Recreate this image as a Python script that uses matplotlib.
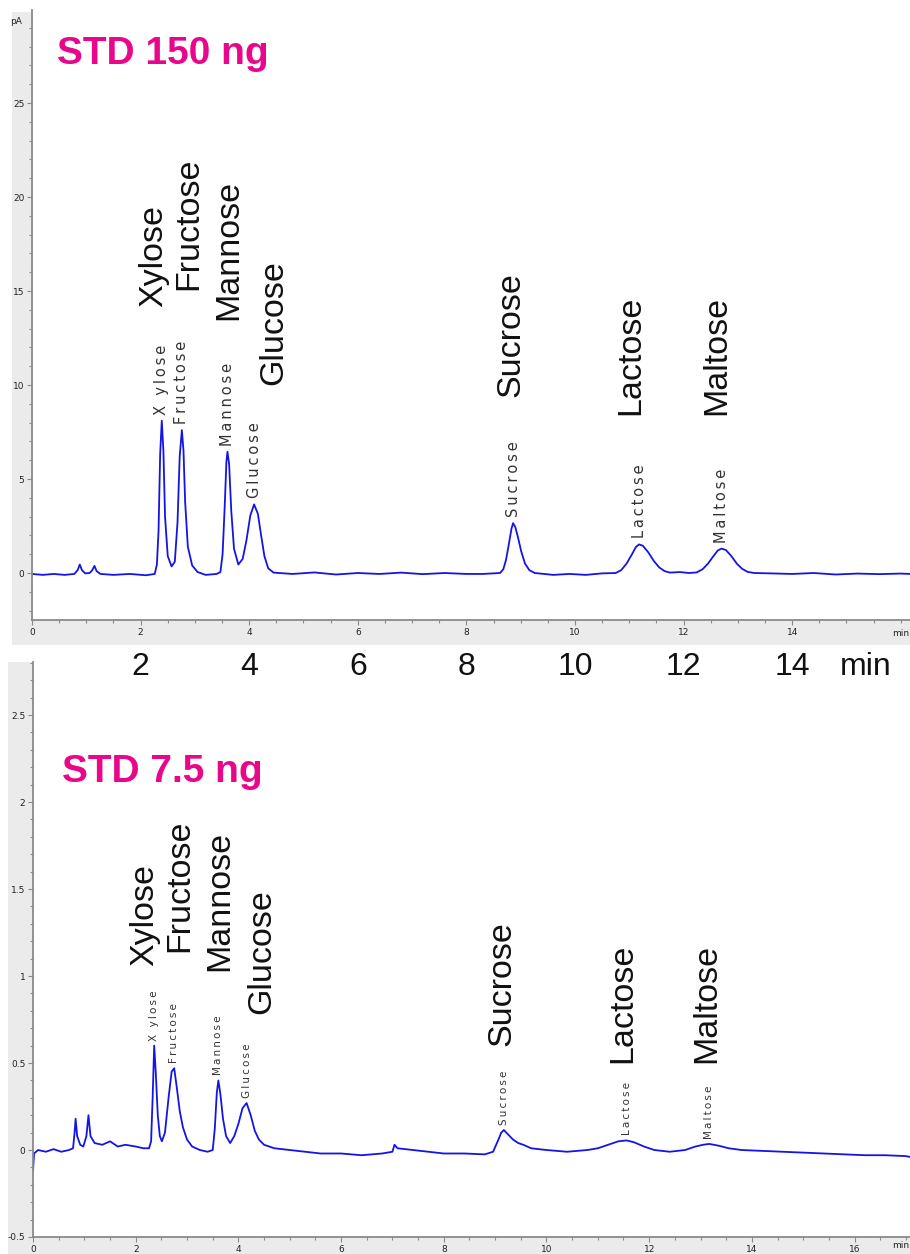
import matplotlib
matplotlib.use('Agg')
import matplotlib.pyplot as plt
from matplotlib.patches import Rectangle
from matplotlib.ticker import MultipleLocator
from matplotlib.transforms import blended_transform_factory, offset_copy

# ---------------- data ----------------
sugars = ['Xylose', 'Fructose', 'Mannose', 'Glucose', 'Sucrose', 'Lactose', 'Maltose']
small_names = ['X ylose', 'Fructose', 'Mannose', 'Glucose', 'Sucrose', 'Lactose', 'Maltose']

top_title = 'STD 150 ng'
bot_title = 'STD 7.5 ng'

top_rt = [2.39, 2.76, 3.60, 4.09, 8.86, 11.18, 12.70]
top_height = [8.1, 7.6, 6.45, 3.65, 2.65, 1.52, 1.30]
bot_rt = [2.36, 2.75, 3.61, 4.16, 9.17, 11.56, 13.17]
bot_height = [0.60, 0.47, 0.40, 0.27, 0.115, 0.055, 0.035]

top_time = [0.00, 0.20, 0.40, 0.60, 0.78, 0.84, 0.88, 0.92, 0.98, 1.06, 1.11, 1.15, 1.19, 1.26,
            1.50, 1.80, 2.10, 2.26, 2.30, 2.33, 2.36, 2.39, 2.42, 2.45, 2.50, 2.57, 2.63, 2.68,
            2.72, 2.76, 2.79, 2.82, 2.87, 2.95, 3.05, 3.20, 3.40, 3.47, 3.51, 3.55, 3.58, 3.60,
            3.63, 3.67, 3.72, 3.80, 3.88, 3.95, 4.02, 4.09, 4.16, 4.22, 4.28, 4.35, 4.45, 4.80,
            5.20, 5.60, 6.00, 6.40, 6.80, 7.20, 7.60, 8.00, 8.30, 8.62, 8.68, 8.73, 8.78, 8.83,
            8.86, 8.90, 8.95, 9.01, 9.08, 9.16, 9.26, 9.60, 9.90, 10.20, 10.50, 10.75, 10.85,
            10.95, 11.05, 11.12, 11.18, 11.25, 11.35, 11.45, 11.55, 11.65, 11.75, 11.93, 12.10,
            12.24, 12.35, 12.45, 12.55, 12.63, 12.70, 12.78, 12.88, 12.98, 13.08, 13.18, 13.30,
            13.60, 14.00, 14.40, 14.80, 15.20, 15.60, 16.00, 16.17]
top_signal = [-0.05, -0.10, -0.05, -0.10, -0.05, 0.15, 0.45, 0.15, -0.02, 0.00, 0.15, 0.38, 0.10, -0.05,
              -0.10, -0.05, -0.12, -0.05, 0.45, 2.20, 6.30, 8.10, 6.50, 3.00, 0.90, 0.35, 0.60, 2.70,
              6.20, 7.60, 6.50, 3.80, 1.40, 0.40, 0.05, -0.10, -0.05, 0.05, 1.00, 3.60, 5.90, 6.45,
              5.80, 3.30, 1.30, 0.45, 0.75, 1.75, 3.05, 3.65, 3.15, 2.00, 0.90, 0.25, 0.02, -0.05,
              0.03, -0.08, 0.00, -0.05, 0.02, -0.06, 0.00, -0.05, -0.05, 0.00, 0.20, 0.70, 1.50, 2.35,
              2.65, 2.45, 1.90, 1.15, 0.50, 0.15, 0.00, -0.10, -0.05, -0.10, -0.02, 0.00, 0.15,
              0.50, 1.00, 1.38, 1.52, 1.45, 1.10, 0.65, 0.30, 0.10, 0.02, 0.05, 0.00,
              0.03, 0.20, 0.50, 0.90, 1.20, 1.30, 1.22, 0.90, 0.50, 0.22, 0.06, 0.00,
              -0.02, -0.05, 0.00, -0.08, -0.03, -0.06, -0.03, -0.05]

bot_time = [0.00, 0.02, 0.10, 0.25, 0.40, 0.55, 0.70, 0.78, 0.81, 0.83, 0.86, 0.92, 0.98, 1.04,
            1.08, 1.12, 1.20, 1.35, 1.50, 1.65, 1.80, 2.00, 2.15, 2.26, 2.30, 2.33, 2.36, 2.39,
            2.43, 2.47, 2.51, 2.57, 2.64, 2.70, 2.75, 2.80, 2.86, 2.92, 3.00, 3.10, 3.25, 3.40,
            3.50, 3.54, 3.58, 3.61, 3.65, 3.70, 3.76, 3.84, 3.92, 4.00, 4.08, 4.16, 4.24, 4.32,
            4.40, 4.50, 4.70, 5.00, 5.30, 5.60, 6.00, 6.40, 6.80, 7.00, 7.04, 7.10, 7.40, 7.70,
            8.00, 8.40, 8.80, 8.96, 9.05, 9.12, 9.17, 9.25, 9.35, 9.45, 9.55, 9.70, 10.00, 10.40,
            10.80, 11.00, 11.20, 11.40, 11.56, 11.70, 11.90, 12.10, 12.40, 12.70, 12.90, 13.05,
            13.17, 13.35, 13.55, 13.80, 14.20, 14.60, 15.00, 15.40, 15.80, 16.20, 16.60, 17.00, 17.08]
bot_signal = [-0.12, -0.02, 0.00, -0.01, 0.005, -0.01, 0.00, 0.01, 0.10, 0.18, 0.08, 0.03, 0.02, 0.08,
              0.20, 0.08, 0.04, 0.03, 0.05, 0.02, 0.03, 0.02, 0.01, 0.01, 0.05, 0.30, 0.60, 0.45,
              0.20, 0.08, 0.05, 0.10, 0.30, 0.45, 0.47, 0.36, 0.22, 0.13, 0.06, 0.02, 0.00, -0.01,
              0.00, 0.12, 0.33, 0.40, 0.32, 0.18, 0.08, 0.04, 0.08, 0.15, 0.24, 0.27, 0.20, 0.11,
              0.06, 0.03, 0.01, 0.00, -0.01, -0.02, -0.02, -0.03, -0.02, -0.01, 0.03, 0.01, 0.00, -0.01,
              -0.02, -0.02, -0.025, -0.01, 0.05, 0.10, 0.115, 0.09, 0.06, 0.04, 0.03, 0.01, 0.00, -0.01,
              0.00, 0.01, 0.03, 0.05, 0.055, 0.045, 0.02, 0.00, -0.01, 0.00, 0.02, 0.03,
              0.035, 0.025, 0.01, 0.00, -0.005, -0.01, -0.015, -0.02, -0.025, -0.03, -0.03, -0.035, -0.04]

top_yticks = [0, 5, 10, 15, 20, 25]
top_xticks = [0, 2, 4, 6, 8, 10, 12, 14]
bot_yticks = [-0.5, 0, 0.5, 1, 1.5, 2, 2.5]
bot_ytick_labels = ['-0.5', '0', '0.5', '1', '1.5', '2', '2.5']
bot_xticks = [0, 2, 4, 6, 8, 10, 12, 14, 16]
big_xtick_values = [2, 4, 6, 8, 10, 12, 14]
x_unit = 'min'
y_unit = 'pA'

# ---------------- layout (positions / styles) ----------------
W, H = 910, 1254
top_big_x = [2.25, 2.89, 3.63, 4.46, 8.82, 11.03, 12.62]
top_big_y = [14.15, 15.05, 13.46, 10.0, 9.36, 8.4, 8.4]
bot_big_x = [2.18, 2.86, 3.64, 4.46, 9.13, 11.49, 13.13]
bot_big_y = [1.06, 1.14, 1.03, 0.78, 0.60, 0.50, 0.50]

TRACE = '#1414e6'
PINK = '#e8078b'
GRAY_BG = '#ebebeb'
AX_GRAY = '#8a8a8a'


def fx(x):
    return x / W


def fy(y):
    return 1 - y / H


def spaced(s):
    return '\u2009'.join(list(s))


fig = plt.figure(figsize=(W / 100, H / 100), dpi=100)
fig.patch.set_facecolor('white')

# gray margin areas (instrument-style)
for (x0, y0, x1, y1) in [(12, 12, 32, 645), (12, 620, 910, 645), (8, 662, 33, 1254), (8, 1237, 910, 1254)]:
    fig.patches.append(Rectangle((fx(x0), fy(y1)), fx(x1) - fx(x0), fy(y0) - fy(y1),
                                 transform=fig.transFigure, facecolor=GRAY_BG,
                                 edgecolor='none', zorder=-5))

ax1 = fig.add_axes([fx(32), fy(620), fx(910) - fx(32), fy(10) - fy(620)])
ax2 = fig.add_axes([fx(33), fy(1237), fx(910) - fx(33), fy(662) - fy(1237)])

for ax in (ax1, ax2):
    ax.set_facecolor('white')
    for s in ('top', 'right'):
        ax.spines[s].set_visible(False)
    for s in ('left', 'bottom'):
        ax.spines[s].set_color(AX_GRAY)
        ax.spines[s].set_linewidth(1.3)
    ax.tick_params(which='both', direction='out', color=AX_GRAY, labelsize=6.5,
                   labelcolor='#222222', width=0.8)
    ax.tick_params(which='major', length=3.5, pad=2)
    ax.tick_params(which='minor', length=2)
    ax.xaxis.set_minor_locator(MultipleLocator(0.5))

# ---- top chromatogram ----
ax1.plot(top_time, top_signal, color=TRACE, lw=1.3)
ax1.set_xlim(0, 16.17)
ax1.set_ylim(-2.5, 29.95)
ax1.set_yticks(top_yticks)
ax1.yaxis.set_minor_locator(MultipleLocator(1))
ax1.set_xticks(top_xticks)

for i, name in enumerate(small_names):
    tr = offset_copy(ax1.transData, fig=fig, x=0, y=6, units='dots')
    ax1.text(top_rt[i], top_height[i], spaced(name), transform=tr, rotation=90,
             ha='center', va='bottom', fontsize=10.5, family='DejaVu Sans', color='#333333')
for i, name in enumerate(sugars):
    ax1.text(top_big_x[i], top_big_y[i], name, rotation=90, ha='center', va='bottom',
             fontsize=24.5, family='Liberation Sans', color='#111111')

fig.text(fx(57), fy(64), top_title, color=PINK, fontsize=28, fontweight='bold',
         family='Liberation Sans', ha='left', va='baseline')
fig.text(fx(16), fy(21), y_unit, fontsize=6.5, color='#222222', ha='center', va='center')
fig.text(fx(909), fy(633), x_unit, fontsize=6.5, color='#222222', ha='right', va='center')

# big x-axis labels under top chromatogram
btr = blended_transform_factory(ax1.transData, fig.transFigure)
for v in big_xtick_values:
    fig.text(v, fy(667), str(v), transform=btr, fontsize=23, family='Liberation Sans',
             color='#111111', ha='center', va='center')
fig.text(15.36, fy(667), x_unit, transform=btr, fontsize=23, family='Liberation Sans',
         color='#111111', ha='center', va='center')

# ---- bottom chromatogram ----
ax2.plot(bot_time, bot_signal, color=TRACE, lw=1.3)
ax2.set_xlim(0, 17.08)
ax2.set_ylim(-0.5, 2.805)
ax2.set_yticks(bot_yticks)
ax2.set_yticklabels(bot_ytick_labels)
ax2.yaxis.set_minor_locator(MultipleLocator(0.1))
ax2.set_xticks(bot_xticks)

for i, name in enumerate(small_names):
    tr = offset_copy(ax2.transData, fig=fig, x=0, y=5, units='dots')
    ax2.text(bot_rt[i], bot_height[i], spaced(name), transform=tr, rotation=90,
             ha='center', va='bottom', fontsize=7.5, family='DejaVu Sans', color='#333333')
for i, name in enumerate(sugars):
    ax2.text(bot_big_x[i], bot_big_y[i], name, rotation=90, ha='center', va='bottom',
             fontsize=24.5, family='Liberation Sans', color='#111111')

fig.text(fx(62), fy(782), bot_title, color=PINK, fontsize=28, fontweight='bold',
         family='Liberation Sans', ha='left', va='baseline')
fig.text(fx(909), fy(1246), x_unit, fontsize=6.5, color='#222222', ha='right', va='center')

fig.savefig('out.png', dpi=100)
